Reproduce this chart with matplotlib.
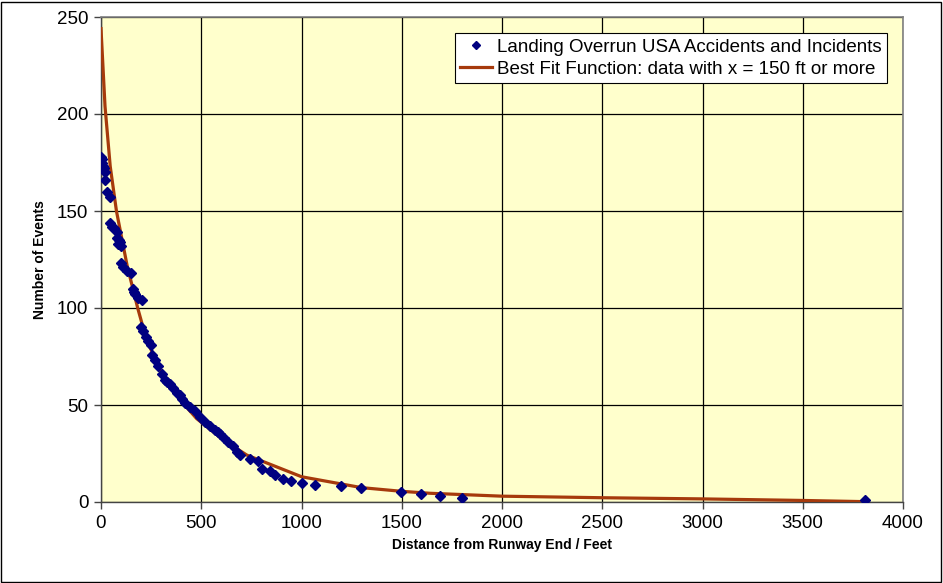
import numpy as np
import matplotlib
matplotlib.use('Agg')
import matplotlib.pyplot as plt
from matplotlib.patches import Rectangle

# Observed overrun events (cumulative count vs distance beyond runway end)
dist_ft = [0, 3, 7, 12, 17, 20, 22, 28, 45, 45, 56, 66, 78, 78, 83, 90, 95, 100,
           100, 111, 128, 150, 161, 165, 170, 186, 203, 200, 211, 223, 236, 248,
           256, 269, 286, 303, 319, 330, 344, 361, 378, 394, 402, 419, 444, 469,
           494, 519, 544, 570, 585, 594, 612, 635, 660, 677, 693, 743, 785, 801,
           843, 868, 909, 946, 1001, 1067, 1197, 1297, 1496, 1596, 1690, 1800, 3810]
n_events = [178, 177, 175, 173, 172, 170, 166, 160, 157, 144, 142, 141, 139, 136,
            133, 135, 134, 132, 123, 121, 119, 118, 110, 108, 107, 105, 104, 90,
            88, 85, 83, 81, 76, 73, 70, 66, 63, 62, 61, 59, 56, 55, 53, 51, 49,
            47, 44, 41, 39, 37, 36, 35, 33, 31, 29, 26, 24, 22, 21, 17, 16, 14,
            12, 11, 10, 9, 8, 7, 5, 4, 3, 2, 1]

# Best fit curve
fit_x = [0, 20, 46, 77, 130, 183, 226, 300, 400, 477, 610, 727, 1001, 1300,
         1500, 1641, 2000, 2500, 3000, 3500, 3800]
fit_y = [244, 204, 173, 150, 122, 100, 84, 67, 52, 43, 32, 24.2, 13, 7.4,
         5.5, 4.5, 3.0, 2.2, 1.6, 0.8, 0.2]

x_ticks = np.arange(0, 4001, 500)
y_ticks = np.arange(0, 251, 50)

plt.rcParams['font.family'] = ['Liberation Sans', 'DejaVu Sans']

fig = plt.figure(figsize=(9.43, 5.83), dpi=100, facecolor='white')
ax = fig.add_axes([101 / 943, 1 - 502 / 583, 802 / 943, 485 / 583])
ax.set_facecolor('#FFFFCC')

ax.set_xlim(0, 4000)
ax.set_ylim(0, 250)
ax.set_xticks(x_ticks)
ax.set_yticks(y_ticks)
ax.grid(True, color='black', linewidth=0.9, zorder=1)
ax.set_axisbelow(True)

ax.plot(fit_x, fit_y, color='#A63A0C', linewidth=2.3, zorder=3,
        label='Best Fit Function: data with x = 150 ft or more')
ax.plot(dist_ft, n_events, linestyle='none', marker='D', markersize=5.5,
        color='#000080', zorder=4,
        label='Landing Overrun USA Accidents and Incidents')

for side in ['top', 'right']:
    ax.spines[side].set_color('#808080')
    ax.spines[side].set_linewidth(1.2)
for side in ['left', 'bottom']:
    ax.spines[side].set_color('#444444')
    ax.spines[side].set_linewidth(1.0)

ax.tick_params(axis='both', direction='out', length=5, width=1, color='#444444',
               labelsize=13.5, pad=4)

ax.set_xlabel('Distance from Runway End / Feet', fontsize=10, fontweight='bold')
ax.set_ylabel('Number of Events', fontsize=10, fontweight='bold')
ax.xaxis.set_label_coords(0.5, -36 / 485)
ax.yaxis.set_label_coords(-54 / 802, 0.5)

handles, labels = ax.get_legend_handles_labels()
leg = ax.legend(handles[::-1], labels[::-1], loc='upper right',
                bbox_to_anchor=(1 - 16 / 802, 1 - 16 / 485),
                fontsize=13.5, frameon=True, fancybox=False, framealpha=1,
                edgecolor='black', borderpad=0.3, handlelength=1.7,
                handletextpad=0.25, labelspacing=0.25, markerscale=0.75,
                borderaxespad=0)
leg.get_frame().set_linewidth(0.8)

fig.patches.append(Rectangle((1 / 943, 1 / 583), 940 / 943, 580 / 583,
                             transform=fig.transFigure, fill=False,
                             edgecolor='black', linewidth=1))

fig.savefig('out.png', dpi=100, facecolor='white')
